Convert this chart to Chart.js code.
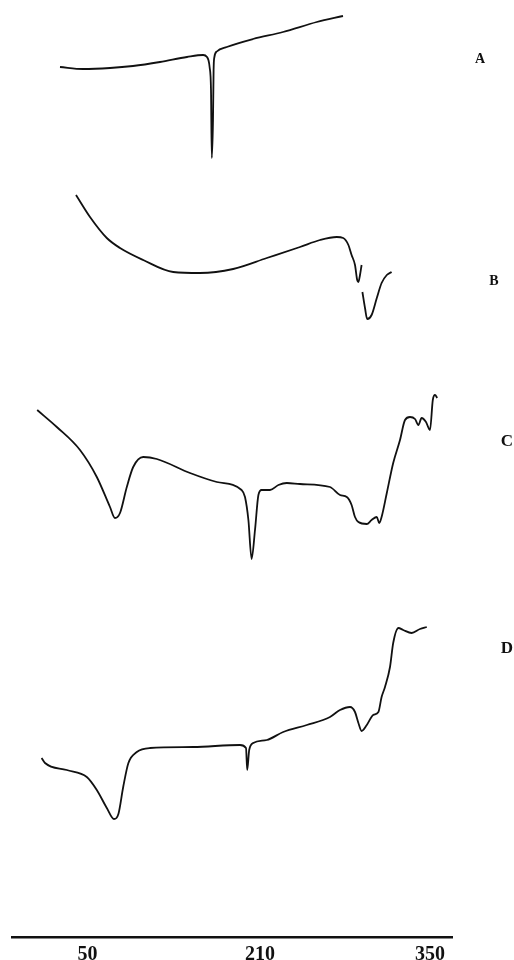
<!DOCTYPE html>
<html>
<head>
<meta charset="utf-8">
<script src="https://cdn.jsdelivr.net/npm/chart.js@4.4.0/dist/chart.umd.min.js"></script>
<style>
  html, body { margin: 0; padding: 0; background: #fff; }
  #wrap { width: 514px; height: 960px; }
</style>
</head>
<body>
<div id="wrap"><canvas id="dsc"></canvas></div>
<script>
// trace readings in chart divisions: [x, y]
const curveA = [
    [12, 87.0], [17.75, 86.8], [24.5, 86.9], [30.25, 87.1], [37, 87.5], [43.75, 88.0],
    [47.8, 88.2], [48.75, 88.0], [49.1, 87.7], [49.4, 87.0], [49.75, 84.7], [49.95, 77.9],
    [50.25, 81.7], [50.4, 86.7], [50.6, 88.0], [51.2, 88.55], [53.7, 89.0], [60.25, 89.8],
    [67.75, 90.5], [76.2, 91.5], [82.75, 92.1]
];
const curveB = [
    [16, 74.2], [19.5, 72.0], [23.7, 69.9], [27, 68.9], [32.8, 67.7], [40.3, 66.5],
    [47, 66.4], [55.3, 66.8], [63.7, 67.9], [72, 69.0], [77, 69.7], [81.2, 70.0],
    [82.8, 69.9], [84.1, 69.2], [84.9, 68.2], [85.75, 67.2], [86.3, 65.7], [86.6, 65.5],
    [87, 66.2], [87.4, 67.2], [87.5, null], [87.6, 64.5], [88.25, 62.9], [88.8, 61.8],
    [89.9, 62.2], [91.2, 63.9], [92.4, 65.4], [93.7, 66.2], [94.9, 66.5]
];
const curveC = [
    [6.3, 52.7], [11.2, 51.0], [17, 48.7], [21.2, 46.0], [24.5, 43.0], [25.75, 41.9],
    [27, 42.4], [28.7, 45.0], [30.3, 47.0], [32.8, 48.0], [36.2, 47.8], [44.5, 46.4],
    [51.2, 45.5], [57.4, 44.7], [58.25, 44.0], [59.1, 41.7], [59.9, 37.8], [60.75, 40.7],
    [61.6, 44.2], [62.4, 44.7], [64.5, 44.7], [66.6, 45.2], [68.7, 45.4], [72, 45.3],
    [79.5, 45.0], [82, 44.2], [83.7, 44.0], [84.9, 43.2], [85.75, 42.0], [86.6, 41.5],
    [88.7, 41.3], [89.9, 41.7], [91.2, 42.0], [91.8, 41.4], [92.4, 42.0], [93.7, 44.4],
    [95.3, 47.4], [97, 49.7], [98.25, 51.7], [99.5, 52.0], [100.75, 51.8], [101.6, 51.2],
    [102.4, 51.9], [103.5, 51.5], [104.5, 50.7], [105.2, 53.7], [105.75, 54.2], [106.3, 53.9]
];
const curveD = [
    [7.4, 17.9], [8.25, 17.4], [13.7, 16.7], [18.7, 16.0], [21.2, 14.7], [23.7, 12.9],
    [25.5, 11.8], [26.6, 12.3], [27.8, 15.0], [29.1, 17.4], [31.2, 18.5], [34.5, 18.9],
    [45.3, 19.0], [57, 19.2], [58.5, 18.9], [58.8, 16.7], [59.3, 18.7], [60.3, 19.4],
    [63.7, 19.7], [67.8, 20.5], [73.7, 21.2], [79.5, 22.0], [82, 22.7], [84.5, 23.0],
    [85.75, 22.5], [86.6, 21.4], [87.4, 20.6], [88.7, 21.2], [90.3, 22.2], [91.6, 22.5],
    [92.4, 24.0], [93.25, 25.0], [94.5, 27.0], [95.3, 29.4], [96.6, 30.9], [97.8, 30.7],
    [99.9, 30.4], [102, 30.8], [103.7, 31.0]
];

const curveNames = ['A', 'B', 'C', 'D'];
const curveLabelY = [87.8, 65.6, 49.5, 28.8];

// temperature ticks along the bottom axis
const tickPositions = [18.9, 62, 104.5];
const tickLabels = ['50', '210', '350'];

const toPoints = (arr) => arr.map(([x, y]) => ({ x, y }));

const curveLabels = {
    id: 'curveLabels',
    afterDraw(chart) {
        const { ctx, chartArea, scales } = chart;
        const offsets = [28, 42, 55, 55];
        const sizes = [14, 14, 17, 17];
        ctx.save();
        ctx.fillStyle = '#111';
        ctx.textAlign = 'center';
        ctx.textBaseline = 'middle';
        curveNames.forEach((name, i) => {
            ctx.font = `bold ${sizes[i]}px "Liberation Serif", serif`;
            ctx.fillText(name, chartArea.right + offsets[i], scales.y.getPixelForValue(curveLabelY[i]));
        });
        ctx.restore();
    }
};

const series = [curveA, curveB, curveC, curveD];

new Chart(document.getElementById('dsc'), {
    type: 'line',
    data: {
        datasets: series.map((s, i) => ({
            label: curveNames[i],
            data: toPoints(s),
            borderColor: '#111',
            borderWidth: 1.8,
            pointRadius: 0,
            fill: false,
            spanGaps: false,
            cubicInterpolationMode: 'monotone'
        }))
    },
    options: {
        responsive: true,
        maintainAspectRatio: false,
        animation: false,
        layout: { padding: { left: 12, right: 62, top: 0, bottom: 0 } },
        plugins: {
            legend: { display: false },
            tooltip: { enabled: false }
        },
        scales: {
            x: {
                type: 'linear',
                min: 0,
                max: 110,
                grid: { display: false, drawTicks: false },
                border: { display: true, color: '#111', width: 2.5 },
                afterBuildTicks: (axis) => {
                    axis.ticks = tickPositions.map(v => ({ value: v }));
                },
                afterFit: (axis) => {
                    axis.height = 23;
                },
                ticks: {
                    autoSkip: false,
                    maxRotation: 0,
                    padding: 8,
                    color: '#111',
                    font: { family: '"Liberation Serif", serif', size: 20, weight: 'bold', lineHeight: 1.0 },
                    callback: (value) => tickLabels[tickPositions.indexOf(value)]
                }
            },
            y: {
                display: false,
                min: 0,
                max: 93.7
            }
        }
    },
    plugins: [curveLabels]
});
</script>
</body>
</html>
